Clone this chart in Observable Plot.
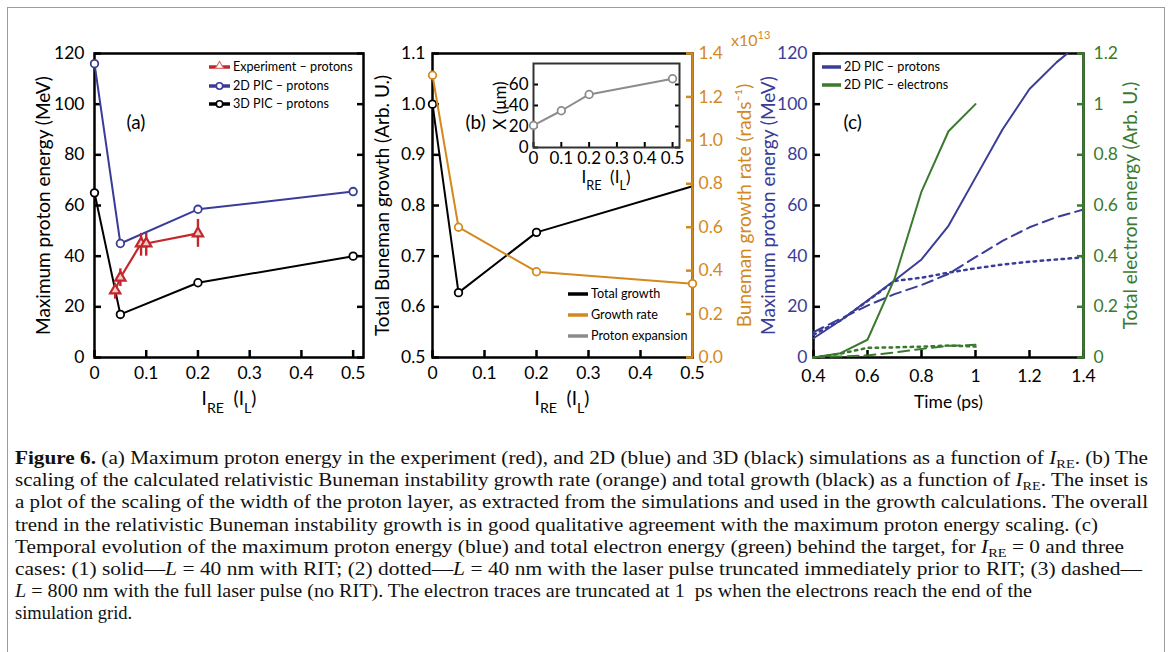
<!DOCTYPE html>
<html><head><meta charset="utf-8">
<script src="https://cdn.jsdelivr.net/npm/d3@7"></script>
<script src="https://cdn.jsdelivr.net/npm/@observablehq/plot@0.6"></script>
<style>
body{margin:0;background:#fff;overflow:hidden}
#fig{position:relative;width:1168px;height:652px;overflow:hidden;background:#fff}
#fig svg{position:absolute;overflow:visible;background:transparent}
#border{position:absolute;left:7px;top:7px;width:1158px;height:700px;border:1.5px solid #9c9c9c;box-sizing:border-box}
</style></head><body><div id="fig"><div id="border"></div></div>
<script>
// ---------- data: panel (a) ----------
const aX = [0, 0.05, 0.2, 0.5];
const a2D = [116, 45, 58.5, 65.5];
const a3D = [65, 17, 29.5, 40];
const expX = [0.04, 0.05, 0.09, 0.1, 0.2];
const expY = [26.5, 31.5, 45, 45, 49];
const expLo = [23, 28, 40, 40, 43.5];
const expHi = [28.5, 35, 49, 49, 54.5];
const aYTicks = [0, 20, 40, 60, 80, 100, 120];
const abXTicks = [0, 0.1, 0.2, 0.3, 0.4, 0.5];
// ---------- data: panel (b) ----------
const bX = [0, 0.05, 0.2, 0.5];
const bTotal = [1.0, 0.628, 0.747, 0.838];
const bRate = [1.30, 0.60, 0.395, 0.34];
const bLeftTicks = [0.5, 0.6, 0.7, 0.8, 0.9, 1.0, 1.1];
const bRightTicks = [0, 0.2, 0.4, 0.6, 0.8, 1.0, 1.2, 1.4];
// inset
const insX = [0, 0.1, 0.2, 0.5];
const insY = [21, 35, 50.5, 65.5];
const insYTicks = [0, 20, 40, 60];
// ---------- data: panel (c) ----------
const cT = [0.4, 0.5, 0.6, 0.7, 0.8, 0.9, 1.0, 1.1, 1.2, 1.3, 1.4];
const cSolidT = [0.4, 0.5, 0.6, 0.7, 0.8, 0.9, 1.0, 1.1, 1.2, 1.3, 1.34];
const cProtSolid = [7.6, 14.6, 22.5, 30.4, 38.7, 52, 71, 90, 106, 116.5, 120];
const cProtDashed = [10, 15.3, 20.5, 25, 28.6, 33, 39.6, 46, 51.4, 55.4, 58.4];
const cProtDotted = [9, 14.6, 22.3, 30.2, 31.5, 33.5, 35.2, 36.7, 37.8, 38.7, 39.5];
const cET = [0.4, 0.5, 0.6, 0.7, 0.8, 0.9, 1.0];
const cElecSolid = [0, 0.017, 0.07, 0.31, 0.655, 0.893, 1.0];
const cElecDotted = [0, 0.015, 0.038, 0.04, 0.043, 0.047, 0.043];
const cElecDashed = [0, 0.004, 0.008, 0.02, 0.034, 0.046, 0.05];
const cXTicks = [0.4, 0.6, 0.8, 1, 1.2, 1.4];
const cLeftTicks = [0, 20, 40, 60, 80, 100, 120];
const cRightTicks = [0, 0.2, 0.4, 0.6, 0.8, 1, 1.2];

const BLUE = "#3a3d97", RED = "#c1272d", ORANGE = "#d4891f", GREEN = "#3b7a2e", GRAY = "#8c8c8c";
const FONT = "Lato, 'Open Sans', sans-serif";
const FS = 17.5, LFS = 19;
const fig = document.getElementById("fig");

function base(w, ml, mr) {
  return {width: w, height: 420, marginTop: 53, marginBottom: 63, marginLeft: ml, marginRight: mr,
    style: {fontFamily: FONT, fontSize: FS + "px", background: "transparent", overflow: "visible"}};
}
function put(svg, left, top) { svg.style.left = left + "px"; svg.style.top = top + "px"; fig.appendChild(svg); return svg; }
const blank = () => "";
const f1 = d3.format(".1f");
// inward tick helpers
const tickL = (ticks, o = {}) => Plot.axisY({ticks, anchor: "left", tickSize: o.size || 7, dx: o.size || 7, tickFormat: blank, label: null, strokeWidth: o.sw || 2.5, ...o});
const tickR = (ticks, o = {}) => Plot.axisY({ticks, anchor: "right", tickSize: o.size || 7, dx: -(o.size || 7), tickFormat: blank, label: null, strokeWidth: o.sw || 2.5, ...o});
const tickB = (ticks, o = {}) => Plot.axisX({ticks, anchor: "bottom", tickSize: o.size || 7, dy: -(o.size || 7), tickFormat: blank, label: null, strokeWidth: o.sw || 2.5, ...o});

function addIRE(svg, cx, y, fs) {
  const t = d3.select(svg).append("text").attr("x", cx).attr("y", y).attr("text-anchor", "middle")
    .style("font-family", FONT).style("font-size", fs + "px").attr("fill", "black");
  const s = fs * 0.4;
  t.append("tspan").text("I");
  t.append("tspan").attr("dy", s).style("font-size", (fs * 0.75) + "px").text("RE");
  t.append("tspan").attr("dy", -s).text("\u2002(I");
  t.append("tspan").attr("dy", s).style("font-size", (fs * 0.75) + "px").text("L");
  t.append("tspan").attr("dy", -s).text(")");
}
function legend(svg, x1, x2, y, color, label, sym) {
  const g = d3.select(svg).append("g");
  g.append("line").attr("x1", x1).attr("x2", x2).attr("y1", y).attr("y2", y).attr("stroke", color).attr("stroke-width", 3.5);
  const cx = (x1 + x2) / 2;
  if (sym === "circle") g.append("circle").attr("cx", cx).attr("cy", y).attr("r", 3.2).attr("fill", "white").attr("stroke", color).attr("stroke-width", 1.6);
  if (sym === "tri") g.append("path").attr("d", d3.symbol(d3.symbolTriangle, 28)()).attr("transform", `translate(${cx},${y - 1})`).attr("fill", "white").attr("stroke", "#e07070").attr("stroke-width", 1.2);
  g.append("text").attr("x", x2 + 3).attr("y", y).attr("dy", "0.35em").attr("text-anchor", "start")
    .style("font-family", FONT).style("font-size", "12.6px").attr("fill", "black").text(label);
}

// ---------- panel (a) ----------
const svgA = put(Plot.plot({
  ...base(380, 94, 17),
  x: {domain: [0, 0.52]},
  y: {domain: [0, 120]},
  marks: [
    Plot.axisY({ticks: aYTicks, tickSize: 0, tickPadding: 10, tickFormat: String, label: null}),
    tickL(aYTicks, {label: "Maximum proton energy (MeV)", labelAnchor: "center", labelArrow: "none", labelOffset: 58, fontSize: LFS}),
    tickR(aYTicks),
    Plot.axisX({ticks: abXTicks, tickSize: 0, tickPadding: 9, tickFormat: String, label: null}),
    tickB(abXTicks),
    Plot.frame({stroke: "black", strokeWidth: 2.5}),
    Plot.line(a3D, {x: aX, y: a3D, stroke: "black", strokeWidth: 2}),
    Plot.line(a2D, {x: aX, y: a2D, stroke: BLUE, strokeWidth: 2}),
    Plot.ruleX(expY, {x: expX, y1: expLo, y2: expHi, stroke: RED, strokeWidth: 2.4}),
    Plot.line(expY, {x: expX, y: expY, stroke: RED, strokeWidth: 2.2}),
    Plot.dot(a3D, {x: aX, y: a3D, r: 3.8, stroke: "black", fill: "white", strokeWidth: 1.8}),
    Plot.dot(a2D, {x: aX, y: a2D, r: 3.8, stroke: BLUE, fill: "white", strokeWidth: 1.8}),
    Plot.dot(expY, {x: expX, y: expY, symbol: "triangle", r: 3.8, stroke: RED, fill: "#f3c9c9", strokeWidth: 2.2}),
    Plot.text(["(a)"], {text: d => d, frameAnchor: "top-left", dx: 32, dy: 62, fontSize: 19})
  ]
}), 0, 0);
legend(svgA, 209, 230, 67, RED, "Experiment \u2013 protons", "tri");
legend(svgA, 209, 230, 86, BLUE, "2D PIC \u2013 protons", "circle");
legend(svgA, 209, 230, 104, "black", "3D PIC \u2013 protons", "circle");
addIRE(svgA, 229, 405, 19);

// ---------- panel (b) ----------
const svgB = put(Plot.plot({
  ...base(400, 62, 78),
  x: {domain: [0, 0.5]},
  y: {domain: [0.5, 1.1]},
  marks: [
    Plot.axisY({ticks: bLeftTicks, tickSize: 0, tickPadding: 7, tickFormat: f1, label: null}),
    tickL(bLeftTicks, {label: "Total Buneman growth (Arb. U.)", labelAnchor: "center", labelArrow: "none", labelOffset: 57, fontSize: LFS}),
    Plot.axisX({ticks: abXTicks, tickSize: 0, tickPadding: 9, tickFormat: String, label: null}),
    tickB(abXTicks),
    Plot.frame({stroke: "black", strokeWidth: 2.5}),
    Plot.line(bTotal, {x: bX, y: bTotal, stroke: "black", strokeWidth: 2}),
    Plot.dot(bTotal.slice(0, 3), {x: bX.slice(0, 3), y: bTotal.slice(0, 3), r: 3.8, stroke: "black", fill: "white", strokeWidth: 1.8}),
    Plot.text(["(b)"], {text: d => d, frameAnchor: "top-left", dx: 33, dy: 62, fontSize: 19})
  ]
}), 370, 0);
legend(svgB, 198, 218, 294, "black", "Total growth");
legend(svgB, 198, 218, 315, ORANGE, "Growth rate");
legend(svgB, 198, 218, 336, GRAY, "Proton expansion");
addIRE(svgB, 192, 405, 19);

const svgB2 = put(Plot.plot({
  ...base(400, 62, 78),
  x: {domain: [0, 0.5], axis: null},
  y: {domain: [0, 1.4]},
  marks: [
    Plot.axisY({ticks: bRightTicks, anchor: "right", tickSize: 0, tickPadding: 6, tickFormat: f1, color: ORANGE, label: null}),
    tickR(bRightTicks, {color: ORANGE, label: "Buneman growth rate (rads\u207B\u00B9)", labelAnchor: "center", labelArrow: "none", labelOffset: 58, fontSize: LFS}),
    Plot.ruleX([0.5], {stroke: ORANGE, strokeWidth: 2.5}),
    Plot.line(bRate, {x: bX, y: bRate, stroke: ORANGE, strokeWidth: 2}),
    Plot.dot(bRate, {x: bX, y: bRate, r: 3.8, stroke: ORANGE, fill: "white", strokeWidth: 1.8})
  ]
}), 370, 0);
{
  const t = d3.select(svgB2).append("text").attr("x", 361).attr("y", 46).attr("fill", ORANGE).attr("text-anchor", "start")
    .style("font-family", FONT).style("font-size", "16px");
  t.append("tspan").text("x10");
  t.append("tspan").attr("dy", -7).style("font-size", "11px").text("13");
}

// ---------- inset ----------
const svgIn = put(Plot.plot({
  width: 220, height: 180, marginLeft: 53, marginRight: 21, marginTop: 33, marginBottom: 63,
  style: {fontFamily: FONT, fontSize: "17px", background: "transparent", overflow: "visible"},
  x: {domain: [0, 0.525]},
  y: {domain: [0, 80]},
  marks: [
    Plot.frame({fill: "white"}),
    Plot.axisY({ticks: insYTicks, tickSize: 0, tickPadding: 5, tickFormat: String, label: "X (\u03BCm)", labelAnchor: "center", labelArrow: "none", labelOffset: 40}),
    tickL(insYTicks, {size: 5, sw: 2}),
    tickR(insYTicks, {size: 5, sw: 2}),
    Plot.axisX({ticks: abXTicks, tickSize: 0, tickPadding: 4, tickFormat: String, label: null}),
    tickB(abXTicks, {size: 5, sw: 2}),
    Plot.frame({stroke: "#333", strokeWidth: 2}),
    Plot.line(insY, {x: insX, y: insY, stroke: GRAY, strokeWidth: 2}),
    Plot.dot(insY, {x: insX, y: insY, r: 3.8, stroke: GRAY, fill: "white", strokeWidth: 1.8})
  ]
}), 480, 30);
addIRE(svgIn, 126, 153, 17);

// ---------- panel (c) ----------
const svgC = put(Plot.plot({
  ...base(418, 63, 85),
  x: {domain: [0.4, 1.4]},
  y: {domain: [0, 120]},
  marks: [
    Plot.axisY({ticks: cLeftTicks, tickSize: 0, tickPadding: 6, tickFormat: String, color: BLUE, label: null}),
    tickL(cLeftTicks, {color: "black", label: "Maximum proton energy (MeV)", labelAnchor: "center", labelArrow: "none", labelOffset: 52, fontSize: LFS}),
    Plot.axisX({ticks: cXTicks, tickSize: 0, tickPadding: 12, tickFormat: String, label: "Time (ps)", labelAnchor: "center", labelArrow: "none", labelOffset: 50}),
    tickB(cXTicks),
    Plot.frame({stroke: "black", strokeWidth: 2.5}),
    Plot.line(cProtSolid, {x: cSolidT, y: cProtSolid, stroke: BLUE, strokeWidth: 2}),
    Plot.line(cProtDashed, {x: cT, y: cProtDashed, stroke: BLUE, strokeWidth: 2, strokeDasharray: "11,6"}),
    Plot.line(cProtDotted, {x: cT, y: cProtDotted, stroke: BLUE, strokeWidth: 2.5, strokeDasharray: "2.5,4.5"}),
    Plot.text(["(c)"], {text: d => d, frameAnchor: "top-left", dx: 30, dy: 62, fontSize: 19})
  ]
}), 750, 0);
legend(svgC, 72, 91, 67, BLUE, "2D PIC \u2013 protons");
legend(svgC, 72, 91, 85, GREEN, "2D PIC \u2013 electrons");
// left-axis label is blue in the reference
d3.select(svgC).selectAll("g[aria-label='y-axis label'] text, g[aria-label='y-axis label']").attr("fill", BLUE);

const svgC2 = put(Plot.plot({
  ...base(418, 63, 85),
  x: {domain: [0.4, 1.4], axis: null},
  y: {domain: [0, 1.2]},
  marks: [
    Plot.axisY({ticks: cRightTicks, anchor: "right", tickSize: 0, tickPadding: 10, tickFormat: String, color: GREEN, label: null}),
    tickR(cRightTicks, {color: GREEN, label: "Total electron energy (Arb. U.)", labelAnchor: "center", labelArrow: "none", labelOffset: 53, fontSize: LFS}),
    Plot.ruleX([1.4], {stroke: GREEN, strokeWidth: 2.5}),
    Plot.line(cElecSolid, {x: cET, y: cElecSolid, stroke: GREEN, strokeWidth: 2}),
    Plot.line(cElecDashed, {x: cET, y: cElecDashed, stroke: GREEN, strokeWidth: 2, strokeDasharray: "11,6"}),
    Plot.line(cElecDotted, {x: cET, y: cElecDotted, stroke: GREEN, strokeWidth: 2.5, strokeDasharray: "2.5,4.5"})
  ]
}), 750, 0);

// ---------- caption ----------
const capLines = [
  "**Figure 6.** (a) Maximum proton energy in the experiment (red), and 2D (blue) and 3D (black) simulations as a function of _I_~RE~. (b) The",
  "scaling of the calculated relativistic Buneman instability growth rate (orange) and total growth (black) as a function of _I_~RE~. The inset is",
  "a plot of the scaling of the width of the proton layer, as extracted from the simulations and used in the growth calculations. The overall",
  "trend in the relativistic Buneman instability growth is in good qualitative agreement with the maximum proton energy scaling. (c)",
  "Temporal evolution of the maximum proton energy (blue) and total electron energy (green) behind the target, for _I_~RE~ = 0 and three",
  "cases: (1) solid\u2014_L_ = 40 nm with RIT; (2) dotted\u2014_L_ = 40 nm with the laser pulse truncated immediately prior to RIT; (3) dashed\u2014",
  "_L_ = 800 nm with the full laser pulse (no RIT). The electron traces are truncated at 1\u2002ps when the electrons reach the end of the",
  "simulation grid."
];
const capEnds = [1148, 1148, 1148, 1098, 1124, 1142, 1032, null];
const cap = d3.select(fig).append("svg").attr("width", 1168).attr("height", 222).style("left", "0px").style("top", "430px");
capLines.forEach((line, i) => {
  const t = cap.append("text").attr("x", 15).attr("y", 34 + i * 22.2)
    .style("font-family", "'Liberation Serif', 'DejaVu Serif', serif").style("font-size", "18.5px").attr("fill", "#111");
  if (capEnds[i]) t.attr("textLength", capEnds[i] - 15).attr("lengthAdjust", "spacingAndGlyphs");
  let down = false;
  line.split(/(\*\*[^*]+\*\*|_[^_]+_|~[^~]+~)/).filter(s => s).forEach(s => {
    const ts = t.append("tspan");
    if (s.startsWith("**")) ts.text(s.slice(2, -2)).style("font-weight", "bold");
    else if (s.startsWith("_")) ts.text(s.slice(1, -1)).style("font-style", "italic");
    else if (s.startsWith("~")) { ts.text(s.slice(1, -1)).attr("dy", 4).style("font-size", "12.5px"); down = true; return; }
    else ts.text(s);
    if (down) { ts.attr("dy", -4); down = false; }
  });
});
</script></body></html>
